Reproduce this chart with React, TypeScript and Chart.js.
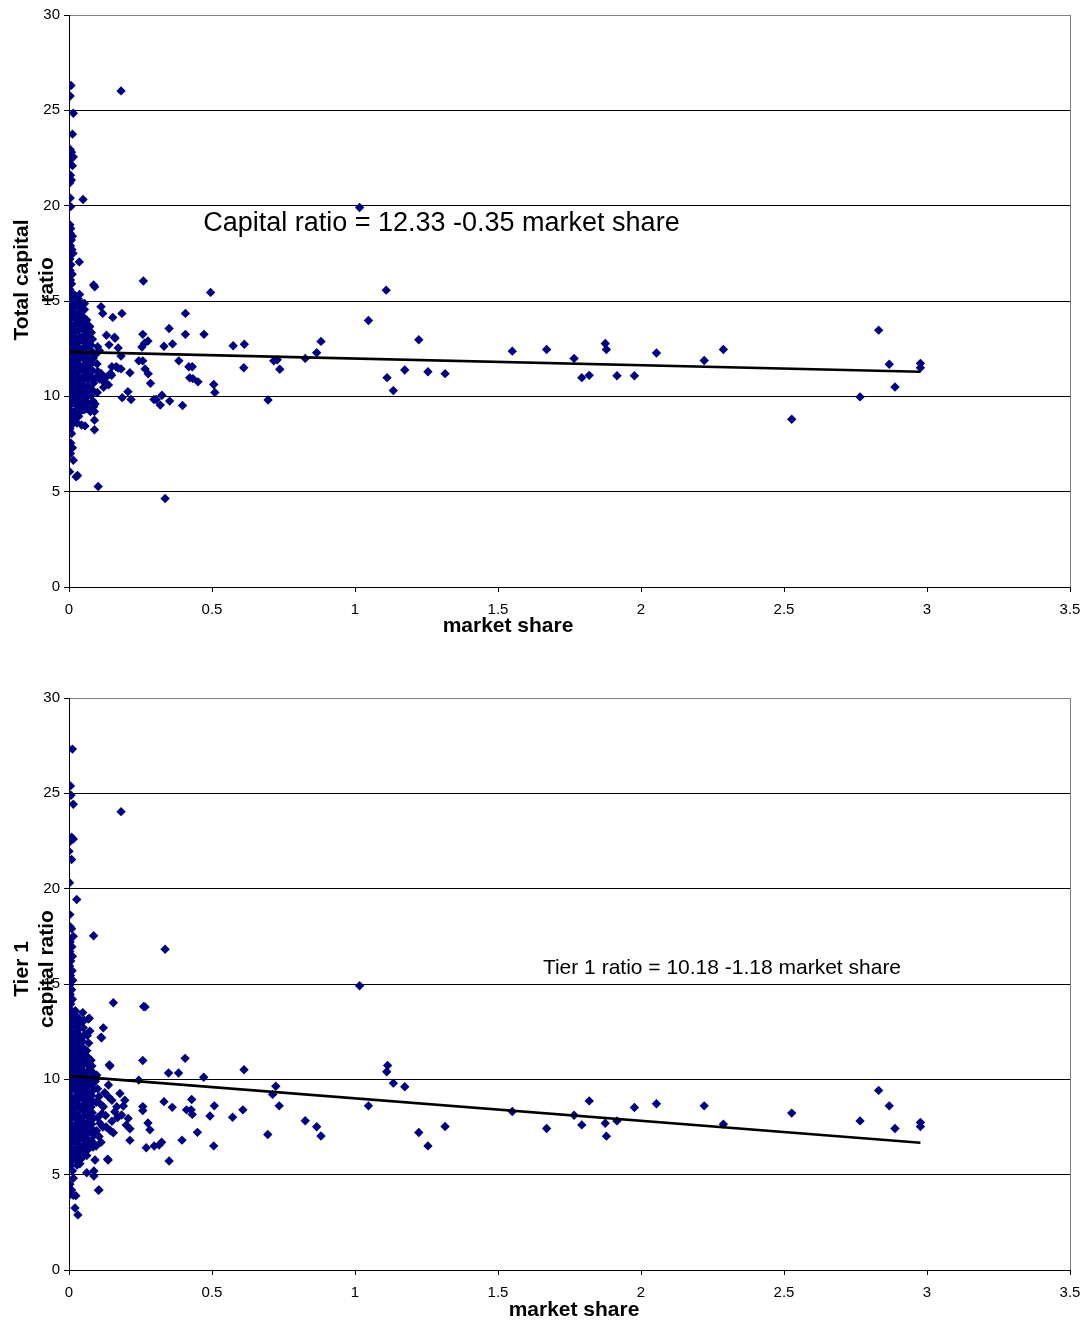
import React, { useEffect, useRef } from 'react';
import { Chart, registerables } from 'chart.js';

Chart.register(...registerables);

const FONT = "'Liberation Sans', Arial, sans-serif";

// axis tick values and labels
const xTickValues = [0, 0.5, 1, 1.5, 2, 2.5, 3, 3.5];
const xTickLabels = ['0', '0.5', '1', '1.5', '2', '2.5', '3', '3.5'];
const yTickValues = [0, 5, 10, 15, 20, 25, 30];
const yTickLabels = ['0', '5', '10', '15', '20', '25', '30'];

// ---------- Total capital ratio vs market share ----------
const totalColumn: [number, number][] = [
  [0.007, 26.3], [0.004, 25.75], [0.015, 24.85], [0.012, 23.75], [0.182, 26.02],
  [0.004, 22.95], [0.009, 22.8], [0.015, 22.55], [0.006, 22.45], [0.012, 22.1], [0.005, 21.6],
  [0.008, 21.35], [0.003, 21.2], [0.004, 20.4], [0.049, 20.32], [0.006, 19.95],
  [0.003, 19.0], [0.006, 18.8], [0.004, 18.55], [0.012, 18.4], [0.008, 18.2], [0.005, 17.9],
  [0.010, 17.7], [0.014, 17.5], [0.036, 17.05], [0.003, 17.2], [0.007, 16.9], [0.004, 16.6],
  [0.011, 16.4], [0.005, 16.1], [0.009, 15.9], [0.003, 15.6], [0.012, 15.4],
  [0.004, 15.15], [0.010, 14.9], [0.003, 14.6], [0.013, 14.35], [0.006, 14.1], [0.002, 13.85],
  [0.011, 13.6], [0.005, 13.3], [0.014, 13.05], [0.003, 12.8], [0.009, 12.55], [0.004, 12.3],
  [0.012, 12.05], [0.006, 11.8], [0.002, 11.55], [0.010, 11.3], [0.005, 11.05], [0.013, 10.8],
  [0.003, 10.55], [0.008, 10.3], [0.004, 10.05], [0.011, 9.8], [0.006, 9.55], [0.002, 9.3],
  [0.010, 9.05], [0.005, 8.8], [0.013, 8.55], [0.003, 8.3], [0.009, 8.05],
  [0.006, 7.55], [0.012, 7.3], [0.005, 7.0], [0.015, 6.65], [0.002, 6.05], [0.025, 5.78], [0.030, 5.85],
];

const totalCluster: [number, number][] = [
  [0.020, 15.3], [0.024, 14.95], [0.019, 14.65], [0.022, 14.3], [0.026, 14.0], [0.018, 13.7],
  [0.023, 13.4], [0.020, 13.1], [0.025, 12.8], [0.019, 12.5], [0.022, 12.2], [0.027, 11.9],
  [0.018, 11.6], [0.023, 11.3], [0.020, 11.0], [0.026, 10.7], [0.019, 10.4], [0.024, 10.1],
  [0.021, 9.8], [0.027, 9.5], [0.019, 9.2], [0.023, 8.9], [0.028, 8.6],
  [0.033, 15.1], [0.038, 14.7], [0.035, 14.4], [0.032, 14.05], [0.039, 13.75], [0.034, 13.45],
  [0.037, 13.1], [0.031, 12.8], [0.036, 12.5], [0.040, 12.2], [0.033, 11.9], [0.038, 11.6],
  [0.035, 11.3], [0.032, 11.0], [0.039, 10.7], [0.034, 10.4], [0.037, 10.1], [0.031, 9.8],
  [0.036, 9.5], [0.040, 9.2], [0.034, 8.95],
  [0.049, 14.85], [0.054, 14.55], [0.047, 14.2], [0.052, 13.9], [0.050, 13.55], [0.055, 13.25],
  [0.048, 12.95], [0.053, 12.6], [0.046, 12.3], [0.051, 12.0], [0.056, 11.7], [0.049, 11.4],
  [0.054, 11.1], [0.047, 10.8], [0.052, 10.5], [0.050, 10.2], [0.055, 9.9], [0.048, 9.6],
  [0.053, 9.3], [0.044, 8.5], [0.056, 8.45],
  [0.062, 14.0], [0.067, 13.7], [0.064, 13.4], [0.069, 13.1], [0.061, 12.8], [0.066, 12.45],
  [0.063, 12.15], [0.068, 11.85], [0.065, 11.5], [0.062, 11.2], [0.067, 10.9], [0.064, 10.55],
  [0.069, 10.25], [0.061, 9.95], [0.066, 9.65], [0.063, 9.35], [0.075, 9.2],
  [0.072, 13.65], [0.078, 13.35], [0.082, 13.0], [0.076, 12.7], [0.080, 12.35], [0.085, 12.0],
  [0.077, 11.7], [0.083, 11.35], [0.079, 11.0], [0.086, 10.7], [0.081, 10.35], [0.077, 10.05],
  [0.084, 9.75], [0.086, 9.45], [0.089, 9.2], [0.089, 8.75], [0.089, 8.25],
  [0.086, 15.84], [0.090, 15.75], [0.037, 15.34], [0.054, 14.87],
  [0.093, 12.2], [0.098, 11.7], [0.101, 11.3], [0.095, 11.0], [0.107, 10.9], [0.112, 11.2],
  [0.118, 10.85], [0.125, 10.7], [0.130, 11.0], [0.138, 10.6], [0.121, 10.47], [0.145, 11.2],
  [0.150, 11.55], [0.165, 11.55], [0.172, 11.48], [0.182, 11.44], [0.149, 11.1], [0.100, 12.6],
  [0.106, 12.4], [0.112, 14.7], [0.118, 14.35], [0.153, 14.14], [0.185, 14.35], [0.072, 13.66],
  [0.131, 13.2], [0.140, 12.7], [0.159, 13.1], [0.161, 13.05], [0.172, 12.54], [0.182, 12.11],
  [0.213, 11.24], [0.206, 10.24], [0.217, 9.83], [0.186, 9.93], [0.102, 5.27], [0.099, 10.2],
  [0.091, 9.6],
];

const totalSpread: [number, number][] = [
  [0.260, 16.05], [0.495, 15.45], [0.258, 13.25], [0.350, 13.56], [0.407, 14.35], [0.407, 13.25],
  [0.472, 13.25], [0.264, 12.79], [0.276, 12.9], [0.255, 12.59], [0.332, 12.63], [0.362, 12.75],
  [0.574, 12.65], [0.613, 12.73], [0.244, 11.86], [0.258, 11.86], [0.266, 11.44], [0.277, 11.18],
  [0.285, 10.68], [0.384, 11.86], [0.419, 11.55], [0.431, 11.55], [0.422, 10.97], [0.433, 10.93],
  [0.451, 10.76], [0.506, 10.62], [0.510, 10.2], [0.611, 11.5], [0.716, 11.86], [0.728, 11.92],
  [0.737, 11.42], [0.696, 9.81], [0.297, 9.83], [0.305, 9.83], [0.325, 10.06], [0.319, 9.54],
  [0.352, 9.75], [0.397, 9.52], [0.336, 4.64], [0.826, 11.99], [0.866, 12.29], [0.881, 12.88],
  [1.016, 19.9], [1.109, 15.57], [1.047, 13.98], [1.223, 12.97], [1.112, 10.98], [1.134, 10.30],
  [1.174, 11.38], [1.255, 11.29], [1.315, 11.19], [1.550, 12.37], [1.670, 12.46], [1.766, 11.99],
  [1.793, 10.98], [1.819, 11.10], [1.875, 12.77], [1.879, 12.46], [1.916, 11.08], [1.977, 11.08],
  [2.054, 12.27], [2.221, 11.88], [2.288, 12.46], [2.527, 8.80], [2.766, 9.97], [2.831, 13.47],
  [2.868, 11.68], [2.888, 10.49], [2.977, 11.73], [2.977, 11.50],
];

const totalTrendX = [0, 2.977];
const totalTrendY = [12.33, 11.29];

// ---------- Tier 1 capital ratio vs market share ----------
const tierColumn: [number, number][] = [
  [0.012, 27.32], [0.005, 25.39], [0.007, 24.9], [0.015, 24.43], [0.182, 24.04], [0.009, 22.7],
  [0.015, 22.6], [0.005, 22.5], [0.000, 21.96], [0.009, 21.53], [0.002, 20.31], [0.027, 19.43],
  [0.003, 18.64], [0.004, 18.0], [0.009, 17.9], [0.015, 17.5], [0.086, 17.53], [0.336, 16.82],
  [0.004, 17.2], [0.010, 16.95], [0.003, 16.7], [0.012, 16.45], [0.006, 16.2], [0.002, 15.95],
  [0.011, 15.7], [0.005, 15.45], [0.013, 15.2], [0.003, 14.95], [0.009, 14.7], [0.004, 14.45],
  [0.012, 14.2], [0.006, 13.95], [0.002, 13.7], [0.010, 13.45], [0.005, 13.2], [0.013, 12.95],
  [0.003, 12.7], [0.008, 12.45], [0.004, 12.2], [0.011, 11.95], [0.006, 11.7], [0.002, 11.45],
  [0.010, 11.2], [0.005, 10.95], [0.013, 10.7], [0.003, 10.45], [0.009, 10.2], [0.004, 9.95],
  [0.012, 9.7], [0.006, 9.45], [0.002, 9.2], [0.010, 8.95], [0.005, 8.7], [0.013, 8.45],
  [0.003, 8.2], [0.009, 7.95], [0.004, 7.7], [0.012, 7.45], [0.006, 7.2], [0.002, 6.95],
  [0.010, 6.7], [0.005, 6.45], [0.013, 6.2], [0.003, 5.95], [0.009, 5.7], [0.004, 5.45],
  [0.012, 5.2], [0.015, 4.81], [0.003, 4.5], [0.009, 4.2], [0.001, 3.92], [0.015, 3.92],
  [0.024, 3.9], [0.021, 3.25], [0.031, 2.89],
];

const tierCluster: [number, number][] = [
  [0.022, 13.6], [0.026, 13.3], [0.020, 13.0], [0.025, 12.7], [0.019, 12.4], [0.023, 12.1],
  [0.027, 11.8], [0.020, 11.5], [0.024, 11.2], [0.019, 10.9], [0.026, 10.6], [0.021, 10.3],
  [0.025, 10.0], [0.019, 9.7], [0.023, 9.4], [0.027, 9.1], [0.020, 8.8], [0.024, 8.5],
  [0.019, 8.2], [0.026, 7.9], [0.021, 7.6], [0.025, 7.3], [0.019, 7.0], [0.023, 6.7],
  [0.027, 6.4], [0.020, 6.1], [0.024, 5.8], [0.028, 5.5],
  [0.034, 13.2], [0.038, 12.9], [0.032, 12.6], [0.037, 12.3], [0.035, 12.0], [0.031, 11.7],
  [0.039, 11.4], [0.034, 11.1], [0.037, 10.8], [0.032, 10.5], [0.036, 10.2], [0.040, 9.9],
  [0.033, 9.6], [0.038, 9.3], [0.035, 9.0], [0.031, 8.7], [0.039, 8.4], [0.034, 8.1],
  [0.037, 7.8], [0.032, 7.5], [0.036, 7.2], [0.040, 6.9], [0.033, 6.6], [0.038, 6.3],
  [0.035, 6.0], [0.038, 5.57],
  [0.048, 13.5], [0.053, 13.1], [0.050, 12.7], [0.055, 12.35], [0.047, 12.0], [0.052, 11.62],
  [0.049, 11.3], [0.054, 11.0], [0.046, 10.7], [0.051, 10.4], [0.056, 10.1], [0.049, 9.8],
  [0.054, 9.5], [0.047, 9.2], [0.052, 8.9], [0.050, 8.6], [0.055, 8.3], [0.048, 8.0],
  [0.053, 7.7], [0.046, 7.4], [0.051, 7.1], [0.056, 6.8], [0.049, 6.5], [0.054, 6.2],
  [0.047, 5.9], [0.062, 5.1],
  [0.067, 13.16], [0.071, 13.2], [0.064, 12.3], [0.069, 11.9], [0.062, 11.5], [0.067, 11.15],
  [0.064, 10.8], [0.069, 10.5], [0.061, 10.2], [0.066, 9.9], [0.063, 9.6], [0.068, 9.3],
  [0.065, 9.0], [0.062, 8.7], [0.067, 8.4], [0.064, 8.1], [0.069, 7.8], [0.061, 7.5],
  [0.066, 7.2], [0.063, 6.9], [0.068, 6.6], [0.065, 6.3], [0.062, 6.0],
  [0.073, 12.53], [0.077, 11.0], [0.080, 10.7], [0.084, 10.35], [0.078, 10.05], [0.082, 9.75],
  [0.086, 9.45], [0.079, 9.15], [0.083, 8.85], [0.077, 8.55], [0.081, 8.25], [0.085, 7.95],
  [0.079, 7.65], [0.083, 7.35], [0.087, 7.05], [0.080, 6.75], [0.084, 6.45], [0.091, 5.77],
  [0.087, 5.19], [0.087, 4.93], [0.105, 4.2],
  [0.097, 10.22], [0.092, 9.9], [0.100, 9.5], [0.105, 9.1], [0.095, 8.8], [0.110, 8.7],
  [0.120, 8.56], [0.115, 8.2], [0.100, 8.0], [0.108, 7.7], [0.118, 7.5], [0.096, 7.3],
  [0.105, 7.0], [0.112, 6.7], [0.095, 6.5], [0.138, 9.7], [0.138, 9.08], [0.178, 9.26],
  [0.167, 8.56], [0.184, 8.13], [0.207, 7.95], [0.213, 7.41], [0.213, 6.8], [0.130, 7.5],
  [0.145, 7.3], [0.155, 7.2], [0.137, 5.77], [0.143, 10.7], [0.141, 10.76], [0.120, 12.7],
  [0.112, 12.21], [0.114, 12.18], [0.155, 14.02], [0.044, 11.62], [0.135, 5.81], [0.103, 4.18],
  [0.125, 9.3], [0.150, 8.9], [0.160, 8.3], [0.170, 8.0], [0.190, 8.6], [0.195, 8.9],
  [0.200, 7.6], [0.128, 8.1], [0.150, 7.8],
];

const tierSpread: [number, number][] = [
  [0.266, 13.8], [0.261, 13.82], [0.258, 10.99], [0.406, 11.1], [0.348, 10.33], [0.383, 10.33],
  [0.471, 10.11], [0.612, 10.5], [0.244, 9.96], [0.723, 9.64], [0.712, 9.21], [0.735, 8.61],
  [0.572, 8.01], [0.608, 8.4], [0.493, 8.08], [0.508, 8.61], [0.429, 8.94], [0.411, 8.4],
  [0.427, 8.4], [0.431, 8.16], [0.361, 8.53], [0.332, 8.83], [0.258, 8.57], [0.258, 8.36],
  [0.276, 7.71], [0.283, 7.35], [0.270, 6.41], [0.298, 6.5], [0.315, 6.55], [0.324, 6.7],
  [0.350, 5.72], [0.395, 6.81], [0.449, 7.22], [0.506, 6.51], [0.695, 7.11], [0.826, 7.83],
  [0.866, 7.51], [0.881, 7.03],
  [1.016, 14.91], [1.114, 10.73], [1.111, 10.40], [1.134, 9.80], [1.174, 9.61], [1.047, 8.61],
  [1.223, 7.21], [1.255, 6.51], [1.315, 7.53], [1.550, 8.31], [1.670, 7.42], [1.766, 8.12],
  [1.793, 7.61], [1.819, 8.87], [1.875, 7.70], [1.879, 7.02], [1.916, 7.82], [1.977, 8.52],
  [2.054, 8.72], [2.221, 8.61], [2.288, 7.65], [2.527, 8.23], [2.766, 7.82], [2.831, 9.42],
  [2.868, 8.61], [2.888, 7.42], [2.977, 7.74], [2.977, 7.53],
];

const tierTrendX = [0, 2.977];
const tierTrendY = [10.18, 6.67];

type PanelProps = {
  top: number;
  height: number;
  padTop: number;
  points: [number, number][];
  trendX: number[];
  trendY: number[];
  equation: string;
  eqX: number;
  eqY: number;
  eqSize: number;
  eqWidth: number;
  yTitle: string[];
  yTitleCenterY: number;
  xTitle: string;
  xTitleX: number;
  xTitleY: number;
};

function Panel(p: PanelProps) {
  const ref = useRef<HTMLCanvasElement | null>(null);

  useEffect(() => {
    if (!ref.current) return;
    const axisHeight = p.height - (p.padTop + 572);

    const labelPlugin = {
      id: 'panelText' + p.top,
      beforeDatasetsDraw(chart: any) {
        const { ctx, chartArea } = chart;
        ctx.save();
        ctx.strokeStyle = '#808080';
        ctx.lineWidth = 1;
        const rx = Math.round(chartArea.right) + 0.5;
        ctx.beginPath();
        ctx.moveTo(rx, chartArea.top);
        ctx.lineTo(rx, chartArea.bottom);
        ctx.stroke();
        ctx.restore();
      },
      afterDraw(chart: any) {
        const { ctx, scales } = chart;
        ctx.save();
        ctx.fillStyle = '#000';
        // regression equation
        ctx.font = `${p.eqSize}px ${FONT}`;
        ctx.textAlign = 'left';
        ctx.textBaseline = 'middle';
        ctx.fillText(p.equation, scales.x.getPixelForValue(p.eqX), scales.y.getPixelForValue(p.eqY), p.eqWidth);
        // x title
        ctx.font = `bold 21px ${FONT}`;
        ctx.textAlign = 'center';
        ctx.fillText(p.xTitle, p.xTitleX, p.xTitleY);
        // y title (rotated, two lines)
        const xs = [22, 47];
        p.yTitle.forEach((line, i) => {
          ctx.save();
          ctx.translate(xs[i], p.yTitleCenterY);
          ctx.rotate(-Math.PI / 2);
          ctx.textAlign = 'center';
          ctx.textBaseline = 'middle';
          ctx.fillText(line, 0, 0);
          ctx.restore();
        });
        ctx.restore();
      },
    };

    const chart = new Chart(ref.current, {
      type: 'scatter',
      data: {
        datasets: [
          {
            type: 'line',
            data: p.trendX.map((x, i) => ({ x, y: p.trendY[i] })),
            borderColor: '#000000',
            borderWidth: 2.6,
            pointRadius: 0,
            fill: false,
            tension: 0,
          } as any,
          {
            data: p.points.map(([x, y]) => ({ x, y })),
            backgroundColor: '#000080',
            borderColor: '#000080',
            borderWidth: 0,
            pointStyle: 'rectRot',
            pointRadius: 4.7,
          },
        ],
      },
      options: {
        animation: false,
        responsive: false,
        events: [],
        layout: { padding: { top: p.padTop, right: 16, left: 0, bottom: 0 } },
        plugins: { legend: { display: false }, tooltip: { enabled: false } },
        scales: {
          x: {
            type: 'linear',
            min: 0,
            max: 3.5,
            afterBuildTicks: (s: any) => {
              s.ticks = xTickValues.map((v) => ({ value: v }));
            },
            afterFit: (s: any) => {
              s.height = axisHeight;
              s.paddingLeft = 0;
              s.paddingRight = 0;
            },
            grid: {
              drawOnChartArea: false,
              drawTicks: true,
              tickLength: 5,
              tickColor: '#000',
            },
            border: { color: '#000', width: 1 },
            ticks: {
              padding: 9,
              color: '#000',
              font: { family: FONT, size: 15 },
              maxRotation: 0,
              autoSkip: false,
              callback: (_v: any, i: number) => xTickLabels[i],
            },
          },
          y: {
            type: 'linear',
            min: 0,
            max: 30,
            afterBuildTicks: (s: any) => {
              s.ticks = yTickValues.map((v) => ({ value: v }));
            },
            afterFit: (s: any) => {
              s.width = 69;
              s.paddingTop = 0;
              s.paddingBottom = 0;
            },
            grid: {
              drawOnChartArea: true,
              drawTicks: true,
              tickLength: 5,
              tickColor: '#000',
              color: (c: any) => (c.tick && c.tick.value === 30 ? '#808080' : '#000'),
              lineWidth: 1,
            },
            border: { color: '#000', width: 1 },
            ticks: {
              padding: 4,
              color: '#000',
              font: { family: FONT, size: 15 },
              autoSkip: false,
              callback: (_v: any, i: number) => yTickLabels[i],
            },
          },
        },
      },
      plugins: [labelPlugin],
    });
    return () => chart.destroy();
  }, []);

  return (
    <canvas
      ref={ref}
      width={1086}
      height={p.height}
      style={{ position: 'absolute', left: 0, top: p.top, display: 'block', width: 1086, height: p.height }}
    />
  );
}

export default function App() {
  return (
    <div
      style={{
        position: 'absolute',
        left: 0,
        top: 0,
        width: 1086,
        height: 1322,
        overflow: 'hidden',
        background: '#ffffff',
      }}
    >
      <Panel
        top={0}
        height={661}
        padTop={15}
        points={[...totalColumn, ...totalCluster, ...totalSpread]}
        trendX={totalTrendX}
        trendY={totalTrendY}
        equation="Capital ratio = 12.33 -0.35 market share"
        eqX={0.469}
        eqY={19.05}
        eqSize={27}
        eqWidth={478}
        yTitle={['Total capital', 'ratio']}
        yTitleCenterY={280}
        xTitle="market share"
        xTitleX={508}
        xTitleY={626}
      />
      <Panel
        top={661}
        height={661}
        padTop={37}
        points={[...tierColumn, ...tierCluster, ...tierSpread]}
        trendX={tierTrendX}
        trendY={tierTrendY}
        equation="Tier 1 ratio = 10.18 -1.18 market share"
        eqX={1.657}
        eqY={15.84}
        eqSize={21}
        eqWidth={362}
        yTitle={['Tier 1', 'capital ratio']}
        yTitleCenterY={308}
        xTitle="market share"
        xTitleX={574}
        xTitleY={649}
      />
    </div>
  );
}
